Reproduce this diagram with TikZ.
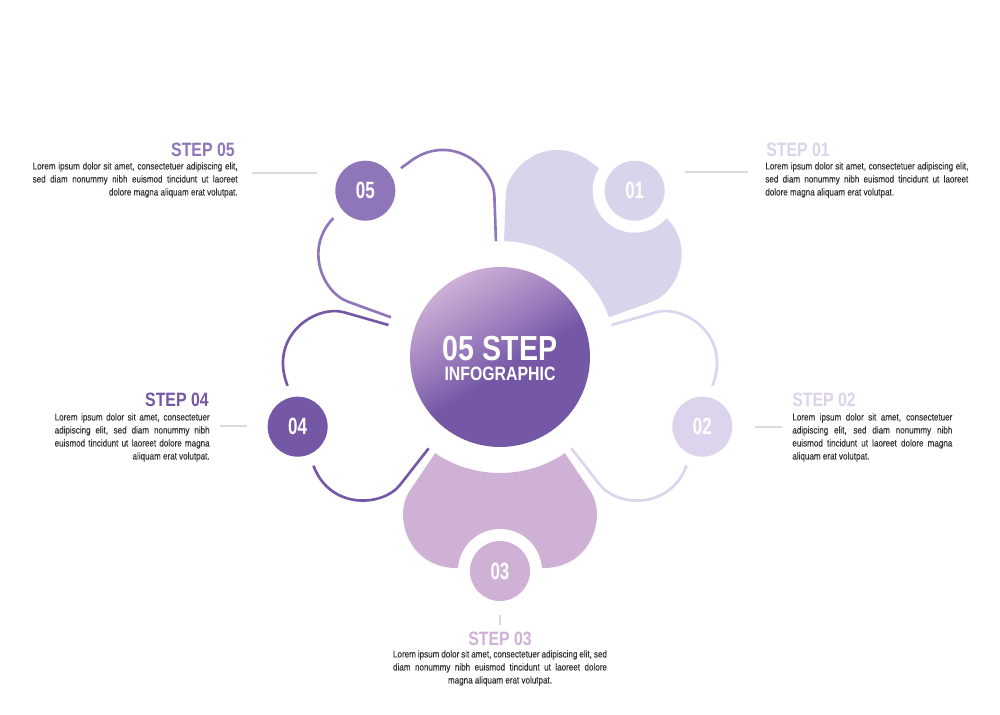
\documentclass[tikz,border=0pt]{standalone}
\usepackage{fontspec}
\setmainfont{Liberation Sans}
\newfontfamily\condfont[FakeStretch=0.82]{Liberation Sans}
\newfontfamily\loremfont[FakeStretch=0.82,FakeBold=0.2]{Liberation Sans}
\newfontfamily\digitfont[FakeStretch=0.72]{Liberation Sans}
\definecolor{Lav}{HTML}{D6D5EB}
\definecolor{Lilac}{HTML}{DCD3EC}
\definecolor{Mauve}{HTML}{CFB1D6}
\definecolor{Grape}{HTML}{7458A6}
\definecolor{Violet}{HTML}{8F76B9}
\definecolor{HubLight}{HTML}{CDB0D6}
\definecolor{HubMid}{HTML}{9A7BBC}
\definecolor{HubDark}{HTML}{7458A6}
\definecolor{Rule}{HTML}{DADADA}
\definecolor{Ink}{HTML}{333333}
\pgfdeclareverticalshading{hub}{100bp}{color(0bp)=(HubDark); color(25bp)=(HubDark);
  color(46bp)=(HubDark); color(57bp)=(HubMid); color(75bp)=(HubLight); color(100bp)=(HubLight)}
\newcommand{\petalpath}{(56:116) -- (56:162) .. controls (107,159) and (92,213) .. (40,211)
  -- (-40,211) .. controls (-92,213) and (-107,159) .. (124:162) -- (124:116)}
\newcommand{\jline}[2]{\makebox[#1][s]{#2}}
\newcommand{\bodyfont}{\loremfont\fontsize{5.6}{7.4}\selectfont}
\newcommand{\headfont}{\condfont\bfseries\fontsize{11}{13}\selectfont}

\begin{document}
\begin{tikzpicture}[x=0.02cm,y=0.02cm,
    petalline/.style={line width=1.5pt},
    leader/.style={draw=Rule,line width=0.6pt},
    head/.style={font=\headfont,inner sep=0pt},
    body/.style={font=\bodyfont,text=Ink,inner sep=0pt},
    halo/.style={circle,fill=white,minimum size=1.68cm,inner sep=0pt},
    numdot/.style={circle,minimum size=1.2cm,inner sep=0pt,text=white,
      font=\digitfont\bfseries\fontsize{13.4}{14}\selectfont}]
  \fill[white] (-500,-357) rectangle (500,357);
  \useasboundingbox (-500,-357) rectangle (500,357);

  \fill[Lav,rotate=-36] \petalpath arc[start angle=124,end angle=56,radius=116] -- cycle;
  \fill[Mauve,rotate=-180] \petalpath arc[start angle=124,end angle=56,radius=116] -- cycle;
  \draw[Lilac,petalline,rotate=-108] \petalpath;
  \draw[Grape,petalline,rotate=108] \petalpath;
  \draw[Violet,petalline,rotate=36] \petalpath;

  \node[circle,shade,shading=hub,shading angle=32,minimum size=3.6cm,inner sep=0pt] (hub) at (0,0) {};
  \node[font=\condfont\bfseries\fontsize{19.8}{20}\selectfont,text=white,anchor=base,inner sep=0pt]
    (title) at (0,-3) {05 STEP};
  \node[font=\condfont\bfseries\fontsize{11}{12}\selectfont,text=white,anchor=base,inner sep=0pt]
    (subtitle) at (0,-23) {INFOGRAPHIC};

  \foreach \n/\ang/\col in {01/51/Lav,02/-19/Lilac,03/-90/Mauve,04/199/Grape,05/129/Violet}{
    \node[halo] (w\n) at (\ang:214) {};
    \node[numdot,fill=\col] (c\n) at (\ang:214) {\n};
  }

  \node[head,text=Violet,anchor=base east] (h05) at (-265,201) {STEP 05};
  \node[body,anchor=north east,align=right] (t05) at (-262,195)
    {\jline{4.1cm}{Lorem ipsum dolor sit amet, consectetuer adipiscing elit,}\\
     \jline{4.1cm}{sed diam nonummy nibh euismod tincidunt ut laoreet}\\
     dolore magna aliquam erat volutpat.};
  \node[head,text=Lav,anchor=base west] (h01) at (266,201) {STEP 01};
  \node[body,anchor=north west,align=left] (t01) at (265,195)
    {\jline{4.06cm}{Lorem ipsum dolor sit amet, consectetuer adipiscing elit,}\\
     \jline{4.06cm}{sed diam nonummy nibh euismod tincidunt ut laoreet}\\
     dolore magna aliquam erat volutpat.};
  \node[head,text=Grape,anchor=base east] (h04) at (-291,-49) {STEP 04};
  \node[body,anchor=north east,align=right] (t04) at (-290,-56)
    {\jline{3.1cm}{Lorem ipsum dolor sit amet, consectetuer}\\
     \jline{3.1cm}{adipiscing elit, sed diam nonummy nibh}\\
     \jline{3.1cm}{euismod tincidunt ut laoreet dolore magna}\\
     aliquam erat volutpat.};
  \node[head,text=Lilac,anchor=base west] (h02) at (292,-49) {STEP 02};
  \node[body,anchor=north west,align=left] (t02) at (292,-56)
    {\jline{3.2cm}{Lorem ipsum dolor sit amet, consectetuer}\\
     \jline{3.2cm}{adipiscing elit, sed diam nonummy nibh}\\
     \jline{3.2cm}{euismod tincidunt ut laoreet dolore magna}\\
     aliquam erat volutpat.};
  \node[head,text=Mauve,anchor=base] (h03) at (0,-288) {STEP 03};
  \node[body,anchor=north,align=center] (t03) at (0,-293)
    {\jline{4.28cm}{Lorem ipsum dolor sit amet, consectetuer adipiscing elit, sed}\\
     \jline{4.28cm}{diam nonummy nibh euismod tincidunt ut laoreet dolore}\\
     magna aliquam erat volutpat.};

  \foreach \n/\xa/\ya/\xb/\yb in {05/-248/184/-183/184,01/185/185/248/185,
      04/-280/-69/-253/-69,02/255/-70/282/-70,03/0/-258/0/-268}{
    \coordinate (a\n) at (\xa,\ya);
    \coordinate (b\n) at (\xb,\yb);
    \draw[leader] (a\n) -- (b\n);
  }
\end{tikzpicture}
\end{document}
